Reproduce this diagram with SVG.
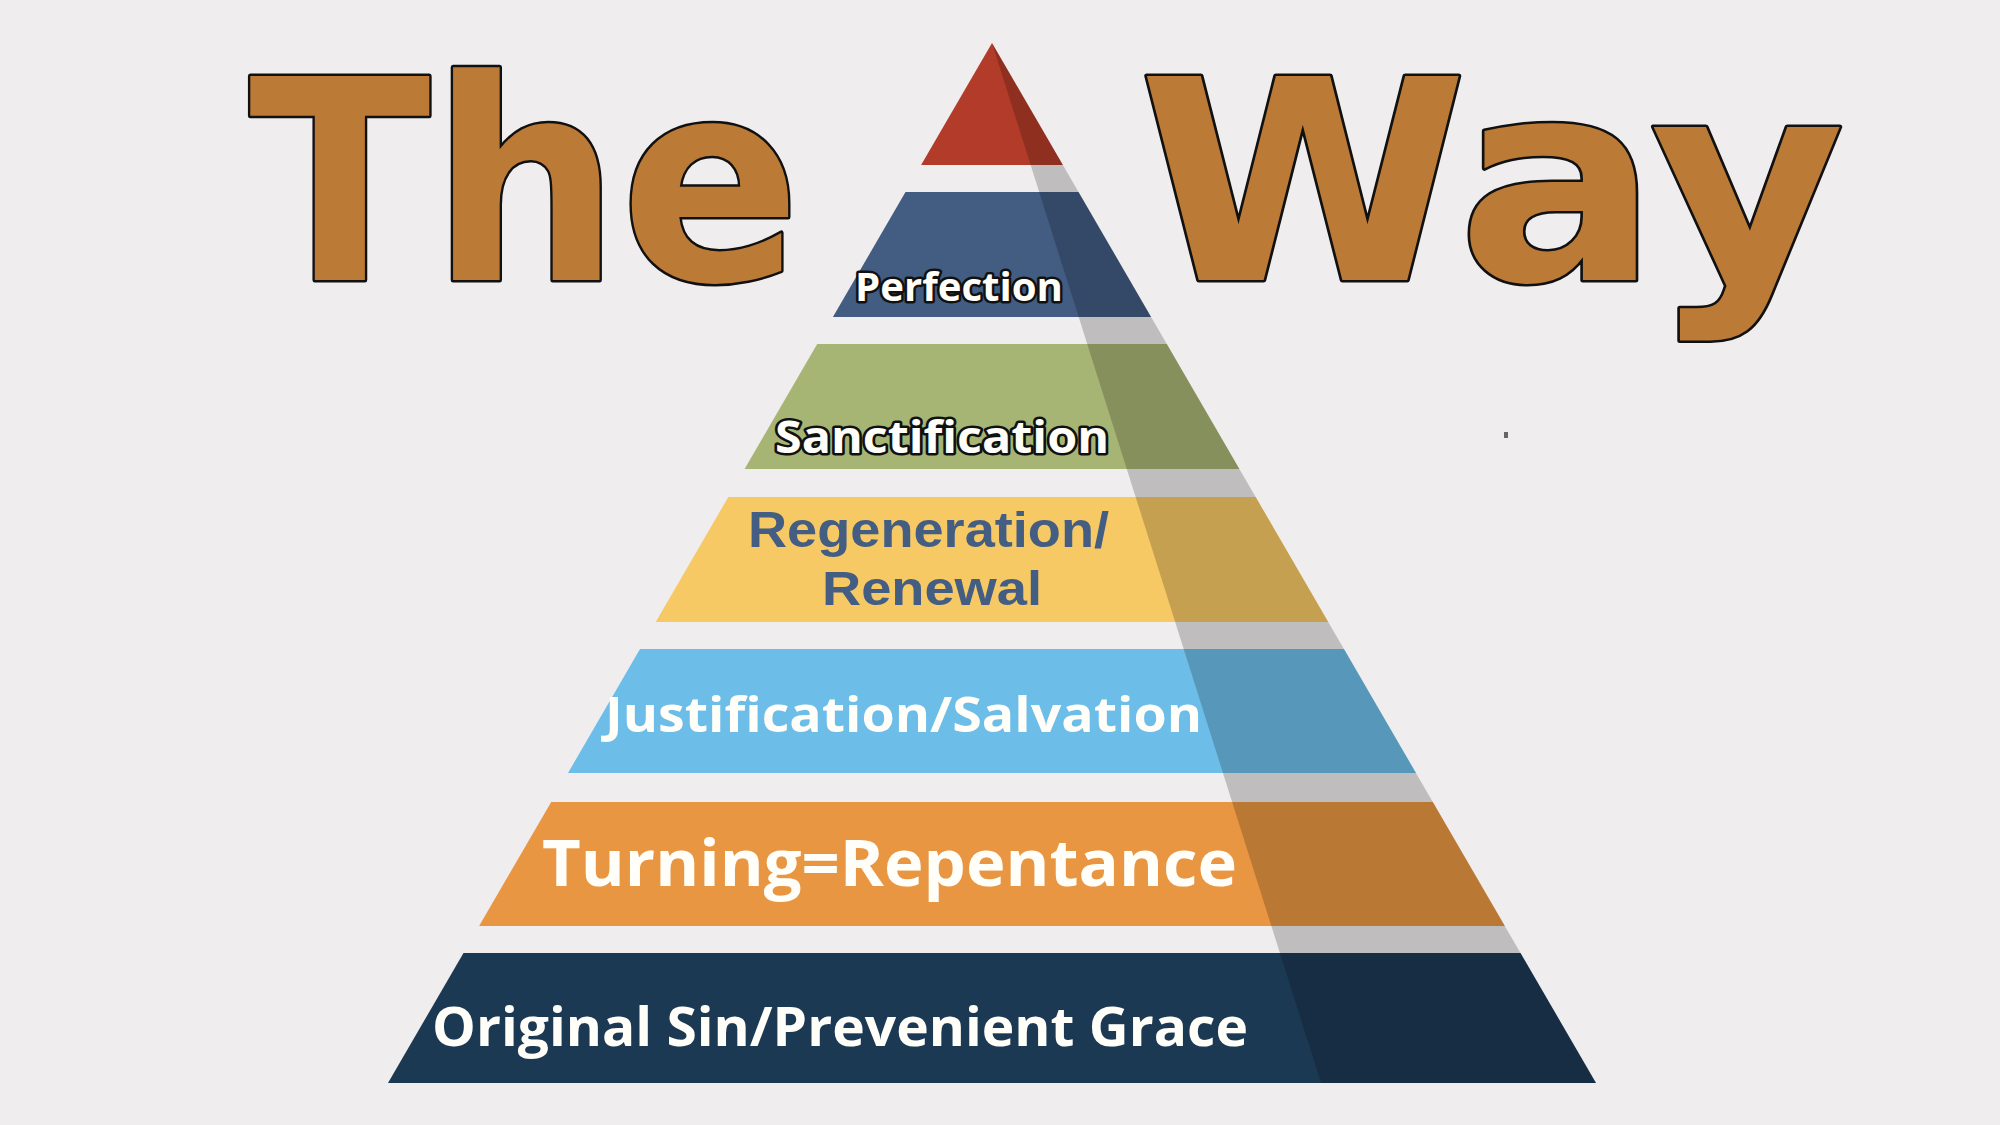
<svg xmlns="http://www.w3.org/2000/svg" width="2000" height="1125" viewBox="0 0 2000 1125">
<defs>
<style>
.title{font-family:"DejaVu Sans","Liberation Sans",sans-serif;font-weight:700;font-size:280px;fill:#bb7a36;stroke:#111;stroke-width:5;paint-order:stroke;stroke-linejoin:round}
.lbl{font-family:"Open Sans","DejaVu Sans",sans-serif;font-weight:700;fill:#fffef8}
.outl{stroke:#111;stroke-width:5;paint-order:stroke;stroke-linejoin:round}
.blue{fill:#445e83;font-family:"Liberation Sans",Arial,sans-serif}
</style>
</defs>
<rect x="0" y="0" width="2000" height="1125" fill="#f0edee"/>
<g id="title-the"><text class="title" x="249" y="280" textLength="552" lengthAdjust="spacingAndGlyphs">The</text></g>
<g id="title-way"><text class="title" x="1138" y="280" textLength="707" lengthAdjust="spacingAndGlyphs">Way</text></g>
<g id="tiers">
<g id="tier-top"><polygon points="992,43 1062.9,165 921.1,165" fill="#b33b29"/></g>
<g id="tier-perfection"><polygon points="905.5,192 1078.5,192 1151.1,317 832.9,317" fill="#425c82"/></g>
<g id="tier-sanctification"><polygon points="817.2,344 1166.8,344 1239.4,469 744.6,469" fill="#a7b574"/></g>
<g id="tier-regeneration"><polygon points="728.3,497 1255.7,497 1328.3,622 655.7,622" fill="#f6c965"/></g>
<g id="tier-justification"><polygon points="640,649 1344,649 1416,773 568,773" fill="#6dbde9"/></g>
<g id="tier-turning"><polygon points="551.2,802 1432.8,802 1504.9,926 479.1,926" fill="#e99643"/></g>
<g id="tier-original"><polygon points="463.5,953 1520.5,953 1596,1083 388,1083" fill="#1c3954"/></g>
</g>
<g id="shade"><polygon points="992,43 1596,1083 1321,1083" fill="#000" fill-opacity="0.2"/></g>
<g id="labels">
<text class="lbl outl" x="855" y="301" font-size="39" textLength="208" lengthAdjust="spacingAndGlyphs">Perfection</text>
<text class="lbl outl" x="775" y="453" font-size="44" textLength="334" lengthAdjust="spacingAndGlyphs">Sanctification</text>
<text class="lbl blue" x="748" y="547" font-size="50" textLength="361" lengthAdjust="spacingAndGlyphs">Regeneration/</text>
<text class="lbl blue" x="822" y="605" font-size="48" textLength="220" lengthAdjust="spacingAndGlyphs">Renewal</text>
<text class="lbl" x="605" y="732" font-size="49" textLength="597" lengthAdjust="spacingAndGlyphs">Justification/Salvation</text>
<text class="lbl" x="542" y="886" font-size="64" textLength="695" lengthAdjust="spacingAndGlyphs">Turning=Repentance</text>
<text class="lbl" x="432" y="1046" font-size="53" textLength="816" lengthAdjust="spacingAndGlyphs">Original Sin/Prevenient Grace</text>
</g>
<rect x="1504" y="432" width="4" height="6" fill="#666"/>
</svg>
